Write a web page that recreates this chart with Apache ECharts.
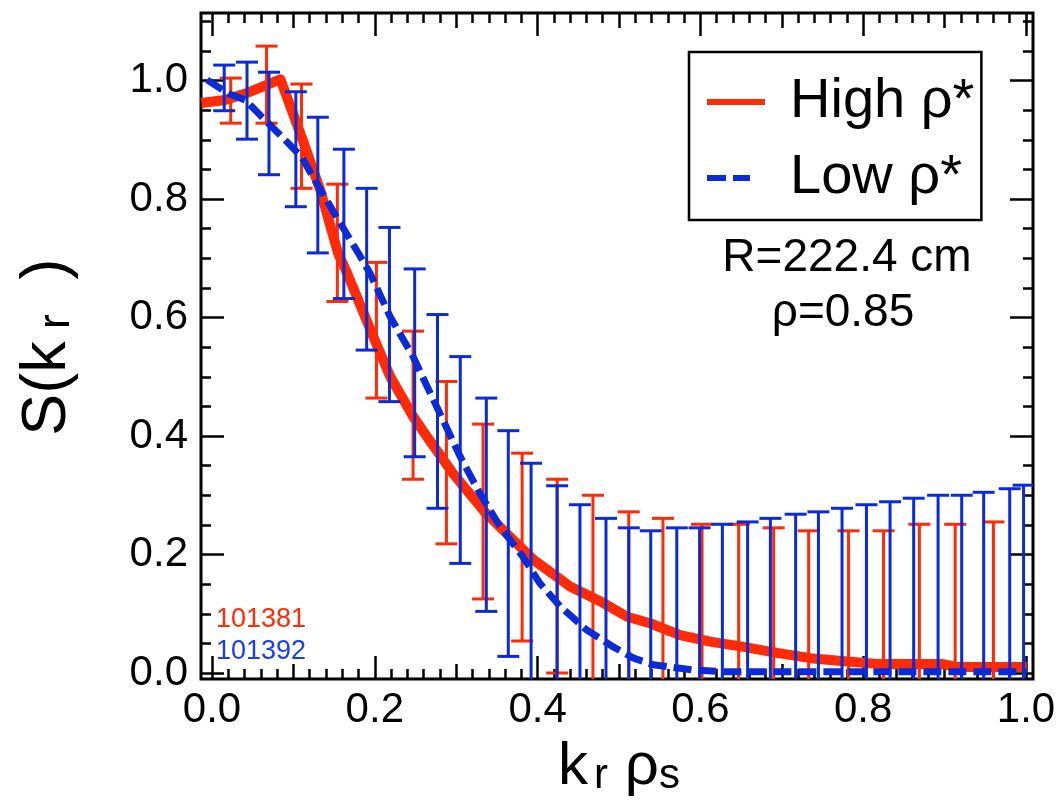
<!DOCTYPE html>
<html>
<head>
<meta charset="utf-8">
<script src="https://cdn.jsdelivr.net/npm/echarts@6/dist/echarts.min.js"></script>
<style>
  html, body { margin: 0; padding: 0; background: #fff; }
  #chart { width: 1062px; height: 806px; }
</style>
</head>
<body>
<div id="chart"></div>
<script>
// ---- data: radial wavenumber spectra S(k_r) for two rho* conditions ----
// High rho* (shot 101381): error-bar positions and bounds
const hiBarK  = [0.023, 0.067, 0.110, 0.154, 0.202, 0.247, 0.288, 0.333, 0.381, 0.424, 0.468,
                 0.512, 0.554, 0.602, 0.647, 0.690, 0.733, 0.782, 0.825, 0.869, 0.913, 0.960];
const hiBarUp = [1.004, 1.058, 0.994, 0.825, 0.693, 0.577, 0.492, 0.420, 0.371, 0.327, 0.300,
                 0.272, 0.261, 0.251, 0.251, 0.245, 0.240, 0.240, 0.240, 0.251, 0.251, 0.255];
const hiBarLo = [0.928, 0.928, 0.818, 0.627, 0.464, 0.327, 0.218, 0.125, 0.054, 0.000, -0.050,
                 -0.080, -0.110, -0.140, -0.160, -0.170, -0.190, -0.200, -0.210, -0.220, -0.230, -0.240];
// High rho* spectrum curve
const hiLineK = [-0.013, 0.016, 0.041, 0.084, 0.110, 0.133, 0.155, 0.166, 0.198, 0.219, 0.247,
                 0.264, 0.296, 0.335, 0.366, 0.395, 0.440, 0.481, 0.510, 0.538, 0.575, 0.612,
                 0.653, 0.694, 0.735, 0.784, 0.821, 0.898, 0.915, 1.001];
const hiLineS = [0.962, 0.967, 0.978, 1.002, 0.905, 0.815, 0.708, 0.675, 0.568, 0.500, 0.433,
                 0.399, 0.337, 0.272, 0.230, 0.191, 0.146, 0.118, 0.095, 0.084, 0.064, 0.053,
                 0.044, 0.034, 0.025, 0.019, 0.015, 0.015, 0.010, 0.010];

// Low rho* (shot 101392): error-bar positions and bounds
const loBarK  = [0.015, 0.043, 0.070, 0.103, 0.130, 0.162, 0.190, 0.218, 0.249, 0.277, 0.305,
                 0.337, 0.364, 0.392, 0.424, 0.452, 0.484, 0.512, 0.539, 0.571, 0.599, 0.627,
                 0.658, 0.686, 0.717, 0.745, 0.774, 0.804, 0.833, 0.862, 0.892, 0.921, 0.948,
                 0.980, 0.997];
const loBarUp = [1.026, 1.031, 1.014, 0.981, 0.938, 0.884, 0.818, 0.752, 0.682, 0.605, 0.534,
                 0.464, 0.409, 0.354, 0.316, 0.284, 0.261, 0.245, 0.240, 0.245, 0.245, 0.251,
                 0.255, 0.261, 0.268, 0.272, 0.278, 0.284, 0.289, 0.295, 0.300, 0.300, 0.305,
                 0.311, 0.317];
const loBarLo = [0.949, 0.901, 0.841, 0.787, 0.709, 0.632, 0.545, 0.458, 0.365, 0.278, 0.185,
                 0.104, 0.028, -0.020, -0.080, -0.120, -0.160, -0.190, -0.210, -0.230, -0.240, -0.250,
                 -0.250, -0.260, -0.260, -0.270, -0.270, -0.280, -0.290, -0.290, -0.300, -0.300, -0.300,
                 -0.310, -0.310];
// Low rho* spectrum curve
const loLineK = [-0.006, 0.020, 0.041, 0.061, 0.086, 0.110, 0.131, 0.155, 0.180, 0.194, 0.219,
                 0.247, 0.280, 0.305, 0.329, 0.354, 0.382, 0.403, 0.428, 0.460, 0.493, 0.518,
                 0.542, 0.591, 0.632, 1.001];
const loLineS = [1.001, 0.978, 0.967, 0.939, 0.905, 0.871, 0.821, 0.765, 0.708, 0.675, 0.601,
                 0.534, 0.438, 0.365, 0.303, 0.247, 0.196, 0.151, 0.112, 0.073, 0.044, 0.025,
                 0.014, 0.005, 0.002, 0.002];

// axis ticks
const xTickStep = 0.2, xMidStep = 0.1, xMinorSplit = 10;
const yTickStep = 0.2, yMinorStep = 0.05;

const seriesNames = ['High ρ*', 'Low ρ*'];
const shotLabels = ['101381', '101392'];
const noteLines = ['R=222.4 cm', 'ρ=0.85'];

// ---- styling ----
const RED = '#ff2a06';
const BLUE = '#0b2bd8';
const FONT = '"Liberation Sans", Arial, Helvetica, sans-serif';
const TICK_W = 2.5;

const zip2 = (a, b) => a.map((v, i) => [v, b[i]]);
const zip3 = (a, b, c) => a.map((v, i) => [v, b[i], c[i]]);

function errorBars(color) {
  return function (params, api) {
    const k = api.value(0);
    const pLo = api.coord([k, api.value(1)]);
    const pHi = api.coord([k, api.value(2)]);
    const hw = 11;
    const style = { stroke: color, lineWidth: 3, fill: null };
    return {
      type: 'group',
      children: [
        { type: 'line', shape: { x1: pHi[0], y1: pHi[1], x2: pLo[0], y2: pLo[1] }, style },
        { type: 'line', shape: { x1: pHi[0] - hw, y1: pHi[1], x2: pHi[0] + hw, y2: pHi[1] }, style },
        { type: 'line', shape: { x1: pLo[0] - hw, y1: pLo[1], x2: pLo[0] + hw, y2: pLo[1] }, style }
      ]
    };
  };
}

// plot frame geometry (pixels): k=0 at x=212, k=1 at x=1026; S=0 at y=673, S=1 at y=80.5
const X0 = 212, XS = 814, Y0 = 673, YS = 592.5;
const FR = { l: 201, r: 1033, t: 13, b: 679 };

const tickAxisCommon = {
  type: 'value',
  axisLine: { show: false },
  splitLine: { show: false },
  minorSplitLine: { show: false }
};

const xRich = {
  k: { fontSize: 60, fontFamily: FONT, color: '#000', lineHeight: 60 },
  s: { fontSize: 42, fontFamily: FONT, color: '#000', lineHeight: 26, verticalAlign: 'bottom' },
  r: { fontSize: 42, fontFamily: FONT, color: '#000', lineHeight: 26, verticalAlign: 'bottom',
       padding: [0, 0, 0, 6] }
};
const yRich = {
  k: { fontSize: 63, fontFamily: FONT, color: '#000', lineHeight: 63 },
  s: { fontSize: 44, fontFamily: FONT, color: '#000', lineHeight: 28, verticalAlign: 'bottom' }
};

const chart = echarts.init(document.getElementById('chart'), null, { renderer: 'canvas' });

chart.setOption({
  backgroundColor: '#fff',
  animation: false,
  grid: [
    // data + frame
    { left: FR.l, top: FR.t, width: FR.r - FR.l, height: FR.b - FR.t, show: true,
      borderColor: '#000', borderWidth: 3, backgroundColor: 'transparent' },
    // x ticks
    { left: X0, top: FR.t, width: XS, height: FR.b - FR.t },
    // y minor ticks (0 .. 1.1)
    { left: FR.l, top: Y0 - 1.1 * YS, width: FR.r - FR.l, height: 1.1 * YS },
    // y major ticks (0 .. 1.0)
    { left: FR.l, top: Y0 - YS, width: FR.r - FR.l, height: YS }
  ],
  xAxis: [
    { gridIndex: 0, type: 'value', show: false,
      min: (FR.l - X0) / XS, max: (FR.r - X0) / XS },
    Object.assign({}, tickAxisCommon, {
      gridIndex: 1, position: 'bottom', min: 0, max: 1, interval: xTickStep,
      axisTick: { inside: true, length: 23, lineStyle: { color: '#000', width: TICK_W } },
      minorTick: { show: true, splitNumber: xMinorSplit, length: 10, lineStyle: { color: '#000', width: TICK_W } },
      axisLabel: { fontSize: 42, fontFamily: FONT, color: '#000', margin: 10,
                   formatter: v => v.toFixed(1) },
      name: '{k|k}{r|r}{k| ρ}{s|s}',
      nameLocation: 'middle', nameGap: 58,
      nameTextStyle: { rich: xRich }
    }),
    Object.assign({}, tickAxisCommon, {
      gridIndex: 1, position: 'top', min: 0, max: 1, interval: xTickStep,
      axisTick: { inside: true, length: 23, lineStyle: { color: '#000', width: TICK_W } },
      minorTick: { show: true, splitNumber: xMinorSplit, length: 10, lineStyle: { color: '#000', width: TICK_W } },
      axisLabel: { show: false }
    }),
    Object.assign({}, tickAxisCommon, {
      gridIndex: 1, position: 'bottom', min: 0, max: 1, interval: xMidStep,
      axisTick: { inside: true, length: 15, lineStyle: { color: '#000', width: TICK_W } },
      axisLabel: { show: false }
    }),
    Object.assign({}, tickAxisCommon, {
      gridIndex: 1, position: 'top', min: 0, max: 1, interval: xMidStep,
      axisTick: { inside: true, length: 15, lineStyle: { color: '#000', width: TICK_W } },
      axisLabel: { show: false }
    }),
    { gridIndex: 2, type: 'value', show: false, min: 0, max: 1 },
    { gridIndex: 3, type: 'value', show: false, min: 0, max: 1 }
  ],
  yAxis: [
    { gridIndex: 0, type: 'value', show: false,
      min: (Y0 - FR.b) / YS, max: (Y0 - FR.t) / YS },
    { gridIndex: 1, type: 'value', show: false, min: 0, max: 1 },
    Object.assign({}, tickAxisCommon, {
      gridIndex: 2, position: 'left', min: 0, max: 1.1, interval: yMinorStep,
      axisTick: { inside: true, length: 10, lineStyle: { color: '#000', width: TICK_W } },
      axisLabel: { show: false },
      name: '{k|S(k}{s| r}{k|  )}',
      nameLocation: 'middle', nameGap: 122, nameRotate: 90,
      nameTextStyle: { rich: yRich }
    }),
    Object.assign({}, tickAxisCommon, {
      gridIndex: 2, position: 'right', min: 0, max: 1.1, interval: yMinorStep,
      axisTick: { inside: true, length: 10, lineStyle: { color: '#000', width: TICK_W } },
      axisLabel: { show: false }
    }),
    Object.assign({}, tickAxisCommon, {
      gridIndex: 3, position: 'left', min: 0, max: 1, interval: yTickStep,
      axisTick: { inside: true, length: 23, lineStyle: { color: '#000', width: TICK_W } },
      axisLabel: { fontSize: 42, fontFamily: FONT, color: '#000', margin: 13,
                   formatter: v => v.toFixed(1) }
    }),
    Object.assign({}, tickAxisCommon, {
      gridIndex: 3, position: 'right', min: 0, max: 1, interval: yTickStep,
      axisTick: { inside: true, length: 23, lineStyle: { color: '#000', width: TICK_W } },
      axisLabel: { show: false }
    })
  ],
  legend: {
    orient: 'vertical',
    left: 689, top: 52,
    padding: [22, 7, 14, 15],
    borderColor: '#000', borderWidth: 2.5,
    backgroundColor: '#fff',
    itemWidth: 58, itemHeight: 6, itemGap: 20,
    selectedMode: false,
    textStyle: { fontSize: 56, lineHeight: 55, fontFamily: FONT, color: '#000', padding: [0, 0, 0, 20] },
    data: [
      { name: seriesNames[0], itemStyle: { opacity: 0 },
        lineStyle: { color: RED, width: 6, type: 'solid' } },
      { name: seriesNames[1], itemStyle: { opacity: 0 },
        lineStyle: { color: BLUE, width: 6, type: [19, 7, 17, 100] } }
    ]
  },
  series: [
    { name: seriesNames[0], type: 'line', xAxisIndex: 0, yAxisIndex: 0,
      data: zip2(hiLineK, hiLineS), symbol: 'none', clip: true, z: 2,
      lineStyle: { color: RED, width: 10, join: 'round' }, itemStyle: { color: RED } },
    { name: 'High ρ* err', type: 'custom', xAxisIndex: 0, yAxisIndex: 0,
      data: zip3(hiBarK, hiBarLo, hiBarUp), renderItem: errorBars(RED), clip: true, z: 3,
      encode: { x: 0, y: [1, 2] } },
    { name: seriesNames[1], type: 'line', xAxisIndex: 0, yAxisIndex: 0,
      data: zip2(loLineK, loLineS), symbol: 'none', clip: true, z: 4,
      lineStyle: { color: BLUE, width: 7, type: [18, 7] }, itemStyle: { color: BLUE } },
    { name: 'Low ρ* err', type: 'custom', xAxisIndex: 0, yAxisIndex: 0,
      data: zip3(loBarK, loBarLo, loBarUp), renderItem: errorBars(BLUE), clip: true, z: 5,
      encode: { x: 0, y: [1, 2] } }
  ],
  graphic: [
    { type: 'text', x: 847, y: 258, z: 10,
      style: { text: noteLines[0], font: '46px ' + FONT, fill: '#000', align: 'center', verticalAlign: 'middle' } },
    { type: 'text', x: 843, y: 313, z: 10,
      style: { text: noteLines[1], font: '46px ' + FONT, fill: '#000', align: 'center', verticalAlign: 'middle' } },
    { type: 'text', x: 216, y: 620, z: 10,
      style: { text: shotLabels[0], font: '27px ' + FONT, fill: RED, align: 'left', verticalAlign: 'middle' } },
    { type: 'text', x: 216, y: 652, z: 10,
      style: { text: shotLabels[1], font: '27px ' + FONT, fill: '#1a3cf0', align: 'left', verticalAlign: 'middle' } }
  ]
});
</script>
</body>
</html>
